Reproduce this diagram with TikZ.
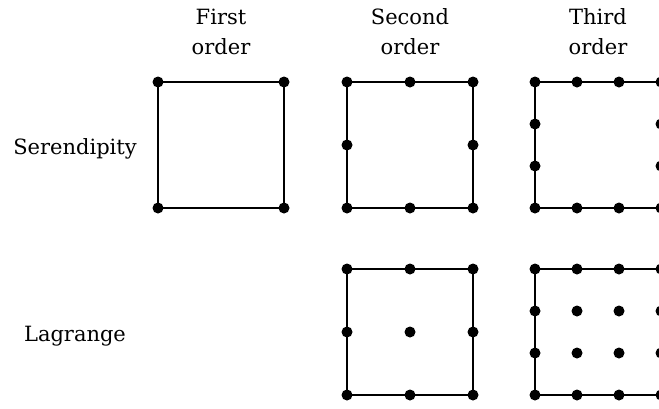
\documentclass[tikz,border=0pt]{standalone}
\usepackage{fontspec}
\setmainfont{DejaVu Serif}
\begin{document}
\begin{tikzpicture}[x=1pt,y=-1pt,
  dot/.style={circle,fill=black,inner sep=0pt,minimum size=11pt},
  edge/.style={draw=black,line width=2pt},
  label/.style={font=\fontsize{21}{30}\selectfont,inner sep=0pt,anchor=base,align=center,text=black}]
\useasboundingbox (0,0) rectangle (659,408);
\clip (0,0) rectangle (659,408);
% column headers (base anchor sits on the last line)
\node[label] (h1) at (221,54) {First\\order};
\node[label] (h2) at (410,54) {Second\\order};
\node[label] (h3) at (598,54) {Third\\order};
% row labels
\node[label] (r1) at (75,154) {Serendipity};
\node[label] (r2) at (75,341) {Lagrange};
% serendipity, first order: corner nodes only
\foreach \i in {0,1} \foreach \j in {0,1}
  \node[dot] (sa-\i-\j) at (158+126*\i,82+126*\j) {};
\draw[edge] (sa-0-0.center) -- (sa-1-0.center) -- (sa-1-1.center) -- (sa-0-1.center) -- cycle;
% serendipity, second order: corners and edge midpoints
\foreach \i in {0,1,2} \foreach \j in {0,1,2} {
  \pgfmathtruncatemacro\onedge{(\i==0)||(\i==2)||(\j==0)||(\j==2)}
  \ifnum\onedge=1
    \node[dot] (sb-\i-\j) at (347+63*\i,82+63*\j) {};
  \fi}
\draw[edge] (sb-0-0.center) -- (sb-2-0.center) -- (sb-2-2.center) -- (sb-0-2.center) -- cycle;
% serendipity, third order: boundary nodes
\foreach \i in {0,...,3} \foreach \j in {0,...,3} {
  \pgfmathtruncatemacro\onedge{(\i==0)||(\i==3)||(\j==0)||(\j==3)}
  \ifnum\onedge=1
    \node[dot] (sc-\i-\j) at (535+42*\i,82+42*\j) {};
  \fi}
\draw[edge] (sc-0-0.center) -- (sc-3-0.center) -- (sc-3-3.center) -- (sc-0-3.center) -- cycle;
% lagrange, second order: full 3x3 grid
\foreach \i in {0,1,2} \foreach \j in {0,1,2}
  \node[dot] (lb-\i-\j) at (347+63*\i,269+63*\j) {};
\draw[edge] (lb-0-0.center) -- (lb-2-0.center) -- (lb-2-2.center) -- (lb-0-2.center) -- cycle;
% lagrange, third order: full 4x4 grid
\foreach \i in {0,...,3} \foreach \j in {0,...,3}
  \node[dot] (lc-\i-\j) at (535+42*\i,269+42*\j) {};
\draw[edge] (lc-0-0.center) -- (lc-3-0.center) -- (lc-3-3.center) -- (lc-0-3.center) -- cycle;
\end{tikzpicture}
\end{document}
